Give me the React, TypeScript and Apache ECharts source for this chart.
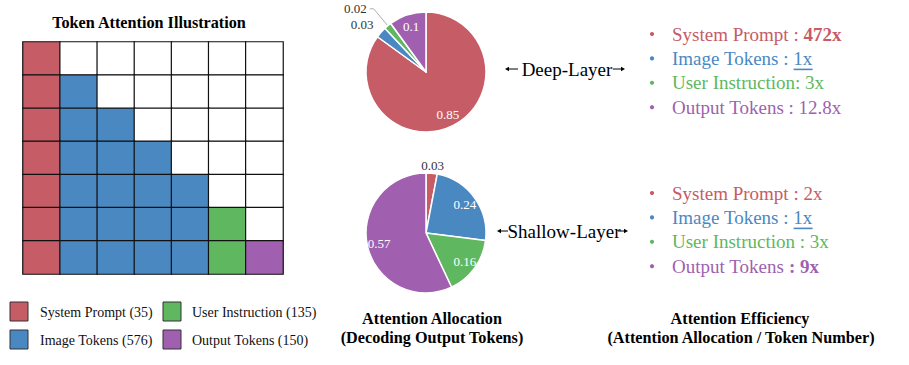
import React, { useEffect, useRef } from "react";
import * as echarts from "echarts";

// ---------- data ----------
const tokenTypes = ["System Prompt", "Image Tokens", "User Instruction", "Output Tokens"];
const tokenCounts = [35, 576, 135, 150];
const maskCodes = ["S", "I", "U", "O"]; // code per token type
const maskRows = [
  "S......",
  "SI.....",
  "SII....",
  "SIII...",
  "SIIII..",
  "SIIIIU.",
  "SIIIIUO",
];
const deepAllocation = [0.85, 0.03, 0.02, 0.1];
const shallowAllocation = [0.03, 0.24, 0.16, 0.57];
const deepEfficiency = ["472x", "1x", "3x", "12.8x"];
const shallowEfficiency = ["2x", "1x", "3x", "9x"];
const deepSeparators = [" : ", " : ", ": ", " : "];
const shallowSeparators = [" : ", " : ", " : ", " : "];
const deepEmphasis = ["boldValue", "underline", "plain", "plain"];
const shallowEmphasis = ["plain", "underline", "plain", "boldColon"];

// ---------- styles ----------
const COLORS = ["#C65C66", "#4A88C2", "#5FB760", "#A05FAF"];
const FONT = '"Liberation Serif", "Times New Roman", serif';
const LIST_SIZE = 19;
const TITLE_SIZE = 16.2;

function measure(text: string, size: number, bold = false): number {
  const c = document.createElement("canvas").getContext("2d");
  if (!c) return text.length * size * 0.5;
  c.font = `${bold ? "bold " : ""}${size}px "Liberation Serif"`;
  return c.measureText(text).width;
}

function buildList(
  values: string[],
  seps: string[],
  emph: string[],
  x0: number,
  y0: number,
  step: number
): any[] {
  const els: any[] = [];
  tokenTypes.forEach((name, i) => {
    const y = y0 + i * step;
    const col = COLORS[i];
    els.push({
      type: "circle",
      shape: { cx: 652, cy: y, r: 2.1 },
      style: { fill: col },
      silent: true,
    });
    let text = "";
    const e = emph[i];
    if (e === "boldValue") {
      text = `{n|${name}${seps[i]}}{b|${values[i]}}`;
    } else if (e === "boldColon") {
      text = `{n|${name} }{b|${seps[i].trim()} ${values[i]}}`;
    } else {
      text = `{n|${name}${seps[i]}${values[i]}}`;
    }
    els.push({
      type: "text",
      x: x0,
      y,
      silent: true,
      style: {
        text,
        verticalAlign: "middle",
        align: "left",
        rich: {
          n: { fontFamily: FONT, fontSize: LIST_SIZE, fill: col, color: col },
          b: { fontFamily: FONT, fontSize: LIST_SIZE, fontWeight: "bold", fill: col, color: col },
        },
      },
    });
    if (e === "underline") {
      const pre = measure(name + seps[i], LIST_SIZE);
      const w = measure(values[i], LIST_SIZE);
      els.push({
        type: "line",
        silent: true,
        shape: { x1: x0 + pre, y1: y + 11, x2: x0 + pre + w, y2: y + 11 },
        style: { stroke: col, lineWidth: 1.6 },
      });
    }
  });
  return els;
}

function arrowPair(xl1: number, xl2: number, xr1: number, xr2: number, y: number): any[] {
  const st = { stroke: "#000", lineWidth: 1 };
  return [
    { type: "line", silent: true, shape: { x1: xl1 + 3, y1: y, x2: xl2, y2: y }, style: st },
    { type: "polygon", silent: true, shape: { points: [[xl1, y], [xl1 + 4, y - 2.2], [xl1 + 4, y + 2.2]] }, style: { fill: "#000" } },
    { type: "line", silent: true, shape: { x1: xr1, y1: y, x2: xr2 - 3, y2: y }, style: st },
    { type: "polygon", silent: true, shape: { points: [[xr2, y], [xr2 - 4, y - 2.2], [xr2 - 4, y + 2.2]] }, style: { fill: "#000" } },
  ];
}

function titleText(text: string, x: number, y: number, size: number): any {
  return {
    type: "text",
    x,
    y,
    silent: true,
    style: {
      text,
      fontFamily: FONT,
      fontSize: size,
      fontWeight: "bold",
      fill: "#000",
      align: "center",
      verticalAlign: "middle",
    },
  };
}

export default function App() {
  const ref = useRef<HTMLDivElement>(null);

  useEffect(() => {
    if (!ref.current) return;
    const chart = echarts.init(ref.current, undefined, { renderer: "svg" });

    const cols = maskRows[0].split("").map((_, i) => String(i));
    const heat: number[][] = [];
    maskRows.forEach((row, r) => {
      row.split("").forEach((ch, c) => {
        const v = ch === "." ? 0 : maskCodes.indexOf(ch) + 1;
        heat.push([c, r, v]);
      });
    });

    const pieCommon = {
      type: "pie",
      radius: 60,
      startAngle: 90,
      clockwise: true,
      avoidLabelOverlap: false,
      silent: true,
      itemStyle: { borderColor: "#fff", borderWidth: 1.5 },
      emphasis: { disabled: true },
      label: {
        position: "outside",
        formatter: (p: any) => String(p.value),
        fontFamily: FONT,
        fontSize: 13,
        color: "#333",
        distanceToLabelLine: 3,
      },
      labelLine: { length: 22, length2: 4, lineStyle: { color: "#999", width: 0.8 } },
    };

    const overlayCommon = {
      type: "pie",
      radius: 90,
      startAngle: 90,
      clockwise: true,
      silent: true,
      itemStyle: { color: "rgba(0,0,0,0)", borderWidth: 0 },
      emphasis: { disabled: true },
      labelLine: { show: false },
      label: {
        position: "inside",
        formatter: (p: any) => String(p.value),
        fontFamily: FONT,
        fontSize: 13,
        color: "#fff",
      },
    };

    const mainData = (vals: number[], small: (i: number) => any) =>
      tokenTypes.map((name, i) => ({
        name,
        value: vals[i],
        itemStyle: { color: COLORS[i] },
        label: { show: vals[i] < 0.05 },
        ...(vals[i] < 0.05 ? small(i) : {}),
      }));
    const overlayData = (vals: number[]) =>
      tokenTypes.map((name, i) => ({ name, value: vals[i], label: { show: vals[i] >= 0.05 } }));

    const legendEls: any[] = [];
    const order = [0, 2, 1, 3]; // layout order: S, U / I, O
    tokenTypes.forEach((name, i) => {
      const pos = order.indexOf(i);
      const cx = pos % 2 === 0 ? 10 : 163;
      const row = Math.floor(pos / 2);
      const y = row === 0 ? 302 : 330;
      legendEls.push({
        type: "rect",
        silent: true,
        shape: { x: cx, y, width: 18, height: 19 },
        style: { fill: COLORS[i], stroke: "#333", lineWidth: 1 },
      });
      legendEls.push({
        type: "text",
        silent: true,
        x: cx + (cx === 10 ? 30 : 29),
        y: y + 10,
        style: {
          text: `${name} (${tokenCounts[i]})`,
          fontFamily: FONT,
          fontSize: 14,
          fill: "#111",
          verticalAlign: "middle",
          align: "left",
        },
      });
    });

    const option: any = {
      animation: false,
      backgroundColor: "#fff",
      grid: { left: 23, top: 42, width: 260, height: 232 },
      xAxis: { type: "category", data: cols, show: false },
      yAxis: { type: "category", data: cols, inverse: true, show: false },
      visualMap: {
        type: "piecewise",
        show: false,
        dimension: 2,
        seriesIndex: 0,
        pieces: [
          { value: 0, color: "#ffffff" },
          { value: 1, color: COLORS[0] },
          { value: 2, color: COLORS[1] },
          { value: 3, color: COLORS[2] },
          { value: 4, color: COLORS[3] },
        ],
      },
      series: [
        {
          type: "heatmap",
          data: heat,
          silent: true,
          itemStyle: { borderColor: "#111", borderWidth: 1.2 },
          emphasis: { disabled: true },
          label: { show: false },
        },
        {
          ...pieCommon,
          center: [426, 72],
          data: mainData(deepAllocation, (i) =>
            i === 1
              ? { labelLine: { show: false, length: 6, length2: 0 } }
              : { labelLine: { show: true, length: 22, length2: 4 } }
          ),
          labelLayout: (p: any) => (p.dataIndex === 1 ? { dy: -4 } : {}),
        },
        {
          ...pieCommon,
          center: [426, 233],
          data: mainData(shallowAllocation, () => ({ labelLine: { show: false, length: 0, length2: 0 } })),
          labelLayout: (p: any) =>
            p.dataIndex === 0 ? { align: "center", verticalAlign: "bottom", dy: -1, dx: -2 } : {},
        },
        { ...overlayCommon, center: [426, 72], data: overlayData(deepAllocation) },
        { ...overlayCommon, center: [426, 233], data: overlayData(shallowAllocation) },
      ],
      graphic: [
        titleText("Token Attention Illustration", 149, 23, TITLE_SIZE),
        titleText("Attention Allocation", 432, 319, TITLE_SIZE),
        titleText("(Decoding Output Tokens)", 432, 338, TITLE_SIZE),
        titleText("Attention Efficiency", 740, 319, TITLE_SIZE),
        titleText("(Attention Allocation / Token Number)", 741, 338, TITLE_SIZE),
        ...legendEls,
        {
          type: "text",
          silent: true,
          x: 567,
          y: 69,
          style: { text: "Deep-Layer", fontFamily: FONT, fontSize: 19, fill: "#000", align: "center", verticalAlign: "middle" },
        },
        ...arrowPair(505, 518, 613, 625, 69),
        {
          type: "text",
          silent: true,
          x: 564,
          y: 231,
          style: { text: "Shallow-Layer", fontFamily: FONT, fontSize: 19, fill: "#000", align: "center", verticalAlign: "middle" },
        },
        ...arrowPair(497, 508, 618, 628, 231),
        ...buildList(deepEfficiency, deepSeparators, deepEmphasis, 672, 34, 24.4),
        ...buildList(shallowEfficiency, shallowSeparators, shallowEmphasis, 672, 193, 24.4),
      ],
    };

    chart.setOption(option);
    return () => chart.dispose();
  }, []);

  return (
    <div
      ref={ref}
      style={{ position: "fixed", left: 0, top: 0, width: 909, height: 365, background: "#fff" }}
    />
  );
}
